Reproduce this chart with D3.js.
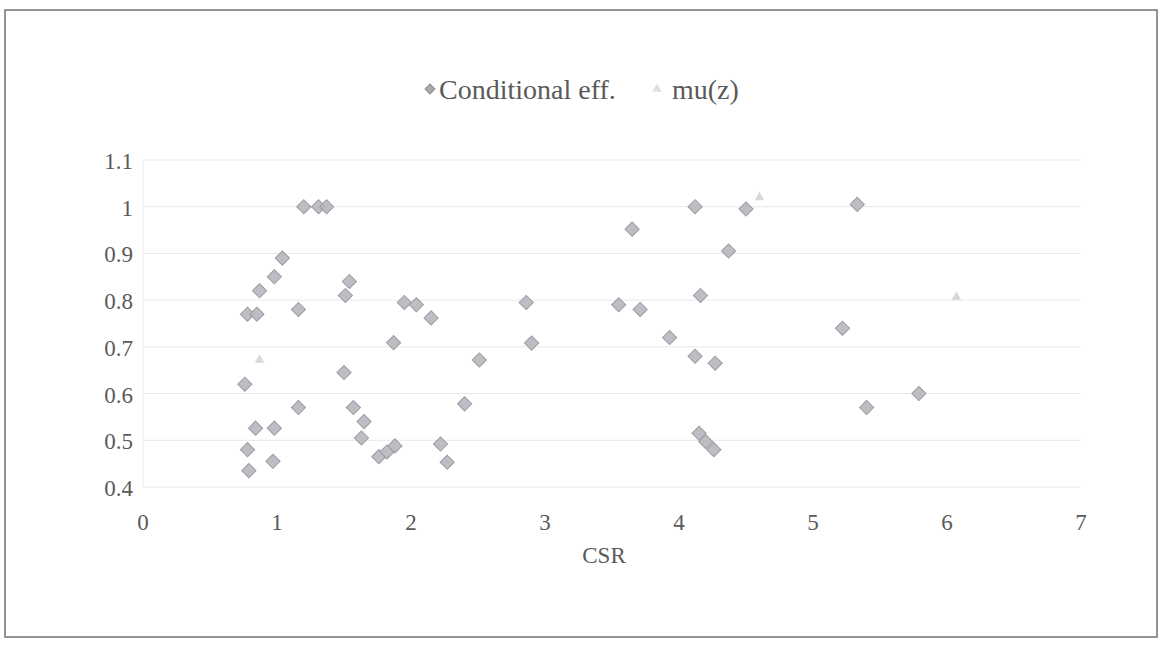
<!DOCTYPE html>
<html>
<head>
<meta charset="utf-8">
<script src="https://cdn.jsdelivr.net/npm/d3@7"></script>
<style>
  html, body { margin: 0; padding: 0; background: #fff; }
  svg { display: block; }
  text { font-family: "Liberation Serif", "DejaVu Serif", serif; fill: #5a5a5a; }
</style>
</head>
<body>
<svg id="chart" width="1161" height="648"></svg>
<script>
// ---- data ----
const condX = [0.76, 0.78, 0.85, 0.87, 0.98, 1.04, 1.16, 1.20, 1.31, 1.37,
               1.51, 1.54, 1.50, 1.16, 1.57, 1.65, 1.63, 0.84, 0.98, 0.78,
               0.97, 0.79, 1.76, 1.82, 1.88, 1.87, 1.95, 2.04, 2.15, 2.22,
               2.27, 2.40, 2.51, 2.86, 2.90, 3.55, 3.71, 3.65, 3.93, 4.12,
               4.12, 4.16, 4.27, 4.37, 4.50, 4.15, 4.20, 4.26, 5.22, 5.33,
               5.40, 5.79];
const condY = [0.62, 0.77, 0.77, 0.82, 0.85, 0.89, 0.78, 1.00, 1.00, 1.00,
               0.81, 0.84, 0.645, 0.57, 0.57, 0.54, 0.505, 0.526, 0.526, 0.48,
               0.455, 0.435, 0.465, 0.475, 0.488, 0.709, 0.795, 0.79, 0.762, 0.492,
               0.453, 0.578, 0.672, 0.795, 0.708, 0.79, 0.78, 0.952, 0.72, 0.68,
               1.00, 0.81, 0.665, 0.905, 0.995, 0.515, 0.497, 0.48, 0.74, 1.005,
               0.57, 0.60];
const muX = [0.87, 4.60, 6.07];
const muY = [0.672, 1.02, 0.807];
const xTicks = [0, 1, 2, 3, 4, 5, 6, 7];
const yTicks = [0.4, 0.5, 0.6, 0.7, 0.8, 0.9, 1.0, 1.1];
const seriesNames = ["Conditional eff.", "mu(z)"];
const xTitle = "CSR";

// ---- layout ----
const svg = d3.select("#chart");
const plot = { left: 143, right: 1081, top: 160, bottom: 487 };

const x = d3.scaleLinear().domain([0, 7]).range([plot.left, plot.right]);
const y = d3.scaleLinear().domain([0.4, 1.1]).range([plot.bottom, plot.top]);

// chart border
svg.append("rect")
  .attr("x", 5).attr("y", 10).attr("width", 1152).attr("height", 627)
  .attr("fill", "none").attr("stroke", "#7a7a7a").attr("stroke-width", 1.6);

// gridlines
svg.append("g")
  .selectAll("line").data(yTicks).join("line")
  .attr("x1", plot.left).attr("x2", plot.right)
  .attr("y1", d => y(d)).attr("y2", d => y(d))
  .attr("stroke", "#e8e8e8").attr("stroke-width", 1);

// y axis line (faint)
svg.append("line")
  .attr("x1", plot.left).attr("x2", plot.left)
  .attr("y1", plot.top).attr("y2", plot.bottom)
  .attr("stroke", "#ececec");

// y axis labels
const yFmt = d => (Math.abs(d - 1) < 1e-9 ? "1" : d3.format(".1f")(d));
svg.append("g")
  .selectAll("text").data(yTicks).join("text")
  .attr("x", 133).attr("y", d => y(d) + 1)
  .attr("dy", "0.35em")
  .attr("text-anchor", "end")
  .attr("font-size", 23)
  .text(yFmt);

// x axis labels
svg.append("g")
  .selectAll("text").data(xTicks).join("text")
  .attr("x", d => x(d)).attr("y", 522)
  .attr("dy", "0.35em")
  .attr("text-anchor", "middle")
  .attr("font-size", 23)
  .text(d => d);

// x title
svg.append("text")
  .attr("x", (plot.left + plot.right) / 2 - 8).attr("y", 555)
  .attr("dy", "0.35em")
  .attr("text-anchor", "middle")
  .attr("font-size", 23)
  .text(xTitle);

// markers
const diamond = d3.symbol().type(d3.symbolSquare).size(100);
const tri = d3.symbol().type(d3.symbolTriangle).size(40);

const condData = condX.map((v, i) => ({ x: v, y: condY[i] }));
const muData = muX.map((v, i) => ({ x: v, y: muY[i] }));

svg.append("g")
  .selectAll("path").data(muData).join("path")
  .attr("d", tri)
  .attr("transform", d => `translate(${x(d.x)},${y(d.y)})`)
  .attr("fill", "#d8d8d8");

svg.append("g")
  .selectAll("path").data(condData).join("path")
  .attr("d", diamond)
  .attr("transform", d => `translate(${x(d.x)},${y(d.y)}) rotate(45)`)
  .attr("fill", "#b6b6bd")
  .attr("fill-opacity", 0.9)
  .attr("stroke", "#9c9ca4")
  .attr("stroke-width", 1);

// legend
const lg = svg.append("g");
lg.append("path")
  .attr("d", d3.symbol().type(d3.symbolSquare).size(50))
  .attr("transform", "translate(430,89) rotate(45)")
  .attr("fill", "#a8a8ae").attr("stroke", "#909096");
lg.append("text")
  .attr("x", 439).attr("y", 89).attr("dy", "0.35em")
  .attr("font-size", 28)
  .text(seriesNames[0]);
lg.append("path")
  .attr("d", d3.symbol().type(d3.symbolTriangle).size(40))
  .attr("transform", "translate(657,89)")
  .attr("fill", "#e0e0e0");
lg.append("text")
  .attr("x", 672).attr("y", 89).attr("dy", "0.35em")
  .attr("font-size", 28)
  .text(seriesNames[1]);
</script>
</body>
</html>
